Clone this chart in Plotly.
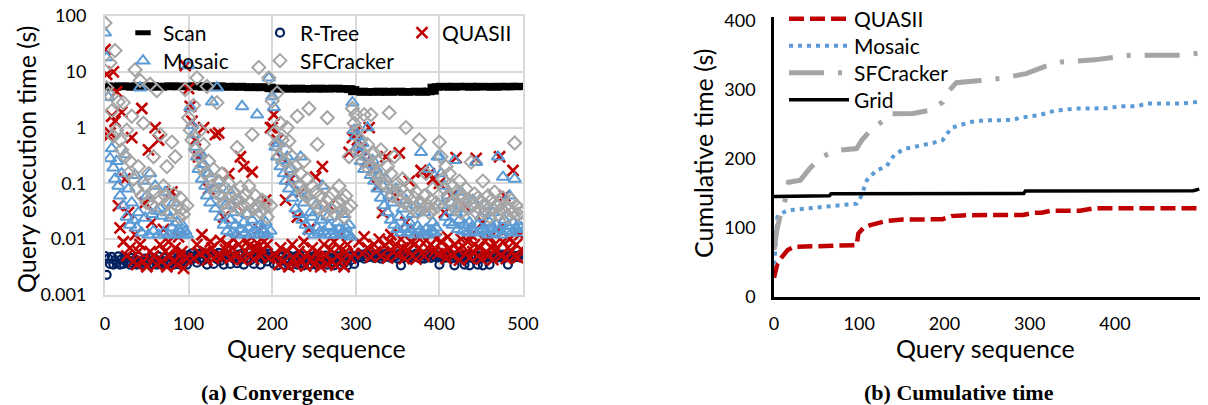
import plotly.graph_objects as go

# ---------------- data ----------------
QUERY = list(range(0, 500, 2))        # sampled query indices (left chart)
SCAN_QUERY = list(range(0, 500, 5))   # sampled query indices for Scan

SCAN_S = [
    5.6, 5.4, 5.3, 5.5, 5.6, 5.4, 5.5, 5.3, 5.6, 5.5, 5.4, 5.6, 5.5, 5.3, 5.5, 5.4, 5.6, 5.5, 5.4, 5.5,
    5.5, 5.4, 5.6, 5.5, 5.3, 5.5, 5.4, 5.6, 5.4, 5.5, 5.3, 5.4, 5.5, 5.3, 5.4, 5.2, 5.3, 5.4, 5.2, 5.3,
    5.0, 4.9, 5.1, 5.0, 4.9, 5.0, 5.1, 4.9, 5.0, 5.0, 4.9, 5.1, 5.0, 4.9, 5.0, 5.1, 5.0, 4.9, 5.0, 4.8,
    4.4, 4.5, 4.3, 4.4, 4.4, 4.3, 4.5, 4.4, 4.3, 4.4, 4.5, 4.4, 4.3, 4.4, 4.4, 4.5, 4.3, 4.4, 4.5, 5.3,
    5.4, 5.5, 5.4, 5.3, 5.5, 5.4, 5.4, 5.5, 5.3, 5.4, 5.5, 5.4, 5.4, 5.3, 5.5, 5.4, 5.4, 5.5, 5.4, 5.5,
]

RTREE_MS = [
    5.0, 2.3, 4.5, 3.6, 4.8, 3.5, 4.2, 3.7, 4.9, 3.5, 4.4, 3.6, 4.7, 3.8, 4.1, 3.5, 4.6, 3.7, 4.3, 3.5,
    4.8, 3.6, 4.0, 3.5, 4.5, 3.8, 4.2, 3.5, 4.7, 3.6, 4.4, 3.5, 4.9, 3.7, 4.1, 3.5, 4.6, 3.6, 4.3, 3.8,
    4.8, 3.5, 4.2, 3.6, 4.5, 3.5, 4.0, 3.7, 4.6, 3.5,
    5.2, 4.8, 5.6, 4.5, 5.0, 3.8, 5.4, 4.6, 5.8, 4.2, 5.1, 3.5, 5.5, 4.7, 4.9, 3.6, 5.3, 4.4, 5.7, 4.1,
    5.0, 3.5, 5.4, 4.8, 5.2, 3.6, 5.6, 4.5, 4.9, 3.7, 5.3, 4.3, 5.5, 3.5, 5.0, 4.6, 5.8, 4.2, 5.1, 3.6,
    5.4, 4.7, 5.0, 3.5, 5.6, 4.4, 5.2, 4.0, 5.5, 4.8,
    5.0, 3.6, 4.6, 3.4, 5.2, 4.1, 4.8, 3.5, 4.4, 3.8, 5.1, 3.4, 4.7, 4.0, 4.9, 3.5, 5.3, 3.7, 4.5, 3.4,
    5.0, 4.2, 4.6, 3.5, 4.8, 3.9, 5.2, 3.4, 4.4, 3.6, 4.9, 4.1, 5.1, 3.5, 4.7, 3.8, 4.5, 3.4, 5.0, 4.0,
    4.8, 3.5, 5.3, 3.7, 4.6, 3.4, 4.9, 4.2, 5.1, 3.6,
    5.0, 4.6, 5.4, 4.8, 5.2, 4.5, 5.5, 4.7, 5.1, 4.9, 5.3, 4.6, 5.0, 4.8, 5.4, 4.5, 5.2, 4.7, 5.5, 4.9,
    5.1, 4.6, 5.3, 4.8, 5.0, 4.5, 5.4, 3.4, 5.2, 4.7, 5.1, 4.8, 5.3, 4.6, 5.0, 4.9, 5.5, 4.7, 5.2, 4.5,
    5.1, 4.5, 5.4, 4.8, 5.0, 4.6, 5.3, 4.9, 5.2, 4.7,
    3.5, 4.8, 5.2, 4.6, 5.0, 4.7, 5.3, 4.5, 5.1, 3.4, 4.9, 5.2, 4.6, 5.0, 4.8, 3.5, 5.3, 4.7, 3.4, 5.1,
    4.6, 5.2, 4.9, 3.5, 5.0, 4.7, 3.4, 5.3, 4.8, 5.1, 3.5, 4.6, 5.0, 4.9, 5.2, 4.7, 5.1, 4.8, 5.3, 4.6,
    5.0, 3.5, 5.2, 4.9, 5.1, 4.7, 5.0, 4.8, 5.2, 4.6,
]

QUASII_MS = [
    25000, 9000, 700, 800, 1600, 10000, 1300, 4400, 40, 16, 1900, 9, 120, 5, 30, 7, 660, 4, 12, 3.5,
    6, 8, 2200, 4, 45, 3.2, 400, 6, 20, 5, 1000, 3.5, 600, 8, 4, 15, 6, 3.2, 9, 5,
    70, 4, 7, 3.5, 11, 5, 6, 3, 13000, 4.5,
    5000, 2400, 1300, 4.5, 600, 8, 300, 5.5, 12, 1000, 6, 4.2, 80, 9, 7, 4.5, 750, 5, 800, 9.5,
    4.8, 25, 6.5, 8, 150, 4.5, 7, 10, 5, 40, 8, 300, 4.3, 200, 6, 9, 7.5, 5, 160, 4.4,
    7, 8.5, 15, 5, 6, 9, 50, 8, 4.6, 1000,
    1000, 1700, 5, 600, 3.5, 7, 280, 4, 50, 6, 3.2, 120, 8, 4.5, 3.5, 25, 6, 70, 4, 9,
    3.3, 5.5, 15, 4.2, 7, 3.5, 130, 6, 4.8, 3.2, 200, 8, 5, 3.6, 40, 6.5, 4, 9, 3.4, 5,
    7, 12, 4.3, 3.2, 6, 8, 360, 4.6, 660, 5.5,
    850, 600, 9, 400, 5.5, 11, 250, 7, 1000, 4.8, 180, 8, 6, 90, 10, 5, 30, 7.5, 300, 4.6,
    9, 12, 6, 60, 8, 5.2, 350, 10, 7, 4.5, 20, 6.5, 110, 9, 5, 8, 4.4, 11, 7, 170,
    160, 5, 9.5, 7, 150, 8, 120, 6, 10, 5.5,
    100, 9, 6, 30, 4.5, 11, 7, 60, 5, 8, 290, 6.5, 4.2, 10, 7.5, 40, 5.5, 9, 4.6, 12,
    6, 8, 280, 5, 7, 4.4, 20, 9.5, 6, 5, 11, 7, 4.3, 8, 6.5, 15, 300, 5, 9, 60,
    4.5, 7, 10, 6, 170, 5, 8, 4.7, 12, 6.5,
]

MOSAIC_MS = [
    50000, 18000, 3500, 280, 420, 190, 120, 250, 90, 60, 150, 40, 330, 25, 80, 18, 45, 22, 140, 16,
    30, 5200, 13, 110, 24, 60, 12, 150, 28, 14, 90, 32, 12, 35, 26, 13, 70, 30, 12, 24,
    16, 45, 12, 20, 15, 13, 18, 12, 14, 12,
    13000, 2300, 1100, 750, 450, 300, 180, 350, 120, 220, 90, 60, 150, 45, 2900, 80, 35, 5200, 110, 25,
    60, 18, 40, 14, 75, 22, 13, 30, 18, 12, 50, 15, 2400, 20, 13, 28, 16, 12, 22, 14,
    35, 1700, 12, 18, 15, 13, 20, 12, 7800, 14,
    3600, 2300, 450, 300, 520, 200, 260, 150, 110, 300, 80, 180, 55, 120, 35, 70, 28, 300, 22, 45,
    18, 60, 14, 30, 25, 12, 40, 16, 13, 22, 90, 14, 12, 25, 17, 12, 35, 14, 12, 20,
    15, 12, 28, 13, 16, 12, 18, 11, 2800, 900,
    700, 450, 350, 250, 520, 180, 300, 1000, 220, 140, 260, 110, 180, 80, 140, 55, 90, 40, 120, 30,
    60, 22, 45, 18, 80, 15, 25, 13, 35, 16, 50, 13, 20, 15, 28, 12, 40, 17, 14, 360,
    13, 30, 15, 12, 180, 14, 20, 13, 16, 300,
    300, 150, 40, 90, 25, 60, 20, 45, 18, 260, 30, 15, 22, 70, 14, 18, 35, 13, 20, 16,
    50, 14, 240, 18, 13, 25, 15, 40, 14, 12, 20, 16, 30, 13, 18, 300, 15, 12, 130, 22,
    14, 17, 60, 13, 20, 120, 15, 18, 13, 16,
]

SFCRACKER_MS = [
    75000, 5200, 4000, 14500, 2000, 700, 24000, 900, 2900, 600, 400, 2800, 300, 900, 150, 250, 1600, 120, 10900, 80,
    200, 7000, 60, 1200, 90, 45, 150, 6000, 40, 300, 70, 4600, 55, 750, 35, 90, 60, 200, 45, 30,
    550, 65, 300, 40, 25, 55, 35, 28, 4800, 40,
    1500, 900, 600, 2500, 400, 7800, 300, 900, 200, 500, 150, 5500, 250, 120, 90, 180, 70, 2800, 110, 60,
    150, 45, 80, 35, 100, 60, 40, 70, 50, 440, 35, 85, 55, 40, 65, 30, 90, 45, 750, 35,
    60, 40, 12000, 30, 50, 35, 45, 25, 7800, 40,
    3000, 800, 500, 4200, 300, 1200, 600, 250, 400, 1000, 570, 180, 300, 120, 200, 1600, 90, 150, 70, 250,
    60, 120, 2200, 50, 90, 45, 70, 500, 35, 60, 40, 80, 30, 1500, 55, 35, 65, 40, 28, 45,
    90, 32, 50, 25, 60, 35, 300, 40, 2200, 1200,
    1700, 900, 400, 600, 250, 1700, 300, 500, 180, 1700, 200, 350, 150, 250, 120, 400, 100, 100, 90, 200,
    1850, 150, 60, 300, 70, 100, 50, 80, 120, 45, 1000, 60, 40, 90, 35, 55, 70, 30, 600, 45,
    35, 60, 150, 40, 30, 50, 80, 35, 45, 40,
    550, 300, 120, 80, 200, 60, 150, 45, 90, 35, 70, 40, 110, 30, 60, 45, 80, 35, 50, 240,
    40, 65, 30, 55, 35, 45, 110, 30, 40, 60, 25, 50, 35, 70, 40, 28, 45, 35, 55, 30,
    40, 25, 35, 50, 30, 530, 40, 28, 35, 30,
]

# cumulative time (s)
QUASII_CUM_X = [0, 1, 4, 8, 16, 24, 60, 97, 99, 105, 113, 132, 151, 198, 208, 230, 292, 304, 314, 324, 359, 371, 377, 499]
QUASII_CUM = [28, 32, 48.6, 55.8, 67.9, 72.7, 73.5, 75, 92, 100, 104, 110, 112, 112.5, 117, 118.4, 118.6, 121.8, 122, 124.6, 124.8, 128, 128.5, 128.5]
MOSAIC_CUM_X = [0, 1, 4, 12, 19, 60, 97, 102, 105, 109, 120, 132, 142, 155, 187, 198, 208, 230, 247, 280, 289, 310, 320, 330, 341, 351, 394, 404, 426, 437, 480, 490, 499]
MOSAIC_CUM = [47, 60, 116, 123, 125.6, 130, 135, 145, 157, 169, 183, 189, 207, 214.7, 223, 227, 244.5, 253, 255.6, 256, 259.5, 262.8, 266, 270, 270.5, 272.5, 273, 275.8, 276, 279.7, 280, 282, 282.5]
SFCRACKER_CUM_X = [0, 3, 7, 13, 17, 31, 42, 56, 73, 97, 103, 115, 132, 136, 163, 183, 198, 204, 214, 222, 242, 265, 296, 318, 337, 376, 396, 418, 476, 492, 499]
SFCRACKER_CUM = [68, 95, 116, 140, 166, 169, 186, 202.6, 212, 214.7, 226.7, 243.6, 258, 265, 265.5, 270, 282, 296.5, 310, 310.5, 313, 316, 323, 333.6, 340, 343, 346, 349.5, 349.5, 351, 352.8]
GRID_CUM_X = [0, 65, 67, 293, 295, 492, 499]
GRID_CUM = [145.5, 146.3, 149.5, 149.8, 153.5, 153.8, 156]

LEFT_YTICKS = [0.001, 0.01, 0.1, 1, 10, 100]
LEFT_YTICKTEXT = ["0.001", "0.01", "0.1", "1", "10", "100"]
LEFT_XTICKS = [0, 100, 200, 300, 400, 500]
RIGHT_XTICKS = [0, 100, 200, 300, 400]
RIGHT_YTICKS = [0, 100, 200, 300, 400]

# ---------------- styling ----------------
# The page body has an 8px margin, so the figure is 8px smaller and every
# target pixel position is measured in screenshot coordinates minus 8.
OFF = 8
W, H = 1200, 397
FONT = "Lato"
SERIF = "Liberation Serif"
C_SCAN = "#000000"
C_RTREE = "#002060"
C_QUASII = "#C00000"
C_MOSAIC = "#5B9BD5"
C_SF = "#A5A5A5"
GRIDC = "#D9D9D9"


def px_x(p):
    return (p - OFF) / W


def px_y(p):
    return 1 - (p - OFF) / H


fig = go.Figure()

ms = lambda arr: [v / 1000 for v in arr]

fig.add_trace(go.Scatter(
    x=SCAN_QUERY[:len(SCAN_S)], y=SCAN_S, mode="markers", name="Scan",
    marker=dict(symbol="line-ew", size=11, color=C_SCAN, line=dict(color=C_SCAN, width=7)),
    xaxis="x", yaxis="y", legend="legend"))
fig.add_trace(go.Scatter(
    x=QUERY[:len(RTREE_MS)], y=ms(RTREE_MS), mode="markers", name="R-Tree",
    marker=dict(symbol="circle-open", size=8, color=C_RTREE, line=dict(color=C_RTREE, width=2.2)),
    xaxis="x", yaxis="y", legend="legend2"))
fig.add_trace(go.Scatter(
    x=QUERY[:len(QUASII_MS)], y=ms(QUASII_MS), mode="markers", name="QUASII",
    marker=dict(symbol="x-thin", size=11, color=C_QUASII, line=dict(color=C_QUASII, width=2.6)),
    xaxis="x", yaxis="y", legend="legend3"))
fig.add_trace(go.Scatter(
    x=QUERY[:len(MOSAIC_MS)], y=ms(MOSAIC_MS), mode="markers", name="Mosaic",
    marker=dict(symbol="triangle-up-open", size=11, color=C_MOSAIC, line=dict(color=C_MOSAIC, width=2)),
    xaxis="x", yaxis="y", legend="legend4"))
fig.add_trace(go.Scatter(
    x=QUERY[:len(SFCRACKER_MS)], y=ms(SFCRACKER_MS), mode="markers", name="SFCracker",
    marker=dict(symbol="diamond-open", size=10, color=C_SF, line=dict(color=C_SF, width=2)),
    xaxis="x", yaxis="y", legend="legend5"))

# right chart
fig.add_trace(go.Scatter(
    x=QUASII_CUM_X, y=QUASII_CUM, mode="lines", name="QUASII",
    line=dict(color=C_QUASII, width=4.5, dash="15px,6px"),
    xaxis="x2", yaxis="y2", legend="legend6"))
fig.add_trace(go.Scatter(
    x=MOSAIC_CUM_X, y=MOSAIC_CUM, mode="lines", name="Mosaic",
    line=dict(color=C_MOSAIC, width=4, dash="4px,5px"),
    xaxis="x2", yaxis="y2", legend="legend7"))
fig.add_trace(go.Scatter(
    x=SFCRACKER_CUM_X, y=SFCRACKER_CUM, mode="lines", name="SFCracker",
    line=dict(color=C_SF, width=5, dash="35px,14px,4px,14px"),
    xaxis="x2", yaxis="y2", legend="legend8"))
fig.add_trace(go.Scatter(
    x=GRID_CUM_X, y=GRID_CUM, mode="lines", name="Grid",
    line=dict(color="#000000", width=3.5),
    xaxis="x2", yaxis="y2", legend="legend9"))

tickfont = dict(family=FONT, size=18, color="#000000")
legfont = dict(family=FONT, size=21, color="#000000")


def leg(xp, yp, **kw):
    d = dict(x=px_x(xp), y=px_y(yp), xanchor="left", yanchor="middle",
             bgcolor="rgba(0,0,0,0)", font=legfont, borderwidth=0)
    d.update(kw)
    return d


fig.update_layout(
    width=W, height=H,
    margin=dict(l=0, r=0, t=0, b=0, autoexpand=False),
    paper_bgcolor="white", plot_bgcolor="white",
    showlegend=True,
    xaxis=dict(domain=[px_x(105), px_x(523)], range=[0, 500], tickvals=LEFT_XTICKS,
               showgrid=True, gridcolor=GRIDC, gridwidth=2, zeroline=False,
               showline=True, mirror=True, linecolor=GRIDC, linewidth=2,
               ticks="", tickfont=tickfont, ticklabelstandoff=11, automargin=False,
               ticklabeloverflow="allow"),
    yaxis=dict(domain=[px_y(295), px_y(16)], type="log", range=[-3.0005, 2.0005],
               tickvals=LEFT_YTICKS, ticktext=LEFT_YTICKTEXT,
               showgrid=True, gridcolor=GRIDC, gridwidth=2, zeroline=False,
               showline=True, mirror=True, linecolor=GRIDC, linewidth=2,
               ticks="", tickfont=tickfont, ticklabelstandoff=13, automargin=False,
               ticklabeloverflow="allow"),
    xaxis2=dict(domain=[px_x(774), px_x(1201)], range=[0, 501], tickvals=RIGHT_XTICKS,
                showgrid=False, zeroline=False, showline=True, linecolor="#000000", linewidth=2.5,
                ticks="", tickfont=tickfont, ticklabelstandoff=9, anchor="y2", automargin=False,
                ticklabeloverflow="allow"),
    yaxis2=dict(domain=[px_y(297), px_y(17)], range=[0, 405], tickvals=RIGHT_YTICKS,
                showgrid=False, zeroline=False, showline=True, linecolor="#000000", linewidth=2.5,
                ticks="", tickfont=tickfont, ticklabelstandoff=12, anchor="x2", automargin=False,
                ticklabeloverflow="allow"),
    legend=leg(123, 33),
    legend2=leg(260, 33),
    legend3=leg(402, 33),
    legend4=leg(123, 61),
    legend5=leg(260, 61),
    legend6=leg(784, 19, itemwidth=60),
    legend7=leg(784, 46, itemwidth=60),
    legend8=leg(784, 73, itemwidth=60),
    legend9=leg(784, 100, itemwidth=60),
)

annotations = [
    dict(text="Query execution time (s)", x=px_x(26), y=px_y(160), textangle=-90,
         font=dict(family=FONT, size=25, color="#000000")),
    dict(text="Query sequence", x=px_x(316), y=px_y(348),
         font=dict(family=FONT, size=25, color="#000000")),
    dict(text="Cumulative time (s)", x=px_x(703), y=px_y(154), textangle=-90,
         font=dict(family=FONT, size=25, color="#000000")),
    dict(text="Query sequence", x=px_x(986), y=px_y(348),
         font=dict(family=FONT, size=25, color="#000000")),
    dict(text="<b>(a) Convergence</b>", x=px_x(278), y=px_y(392),
         font=dict(family=SERIF, size=22, color="#000000")),
    dict(text="<b>(b) Cumulative time</b>", x=px_x(959), y=px_y(392),
         font=dict(family=SERIF, size=22, color="#000000")),
]
for a in annotations:
    a.update(xref="paper", yref="paper", showarrow=False, xanchor="center", yanchor="middle")
fig.update_layout(annotations=annotations)

fig.write_html("out.html")
